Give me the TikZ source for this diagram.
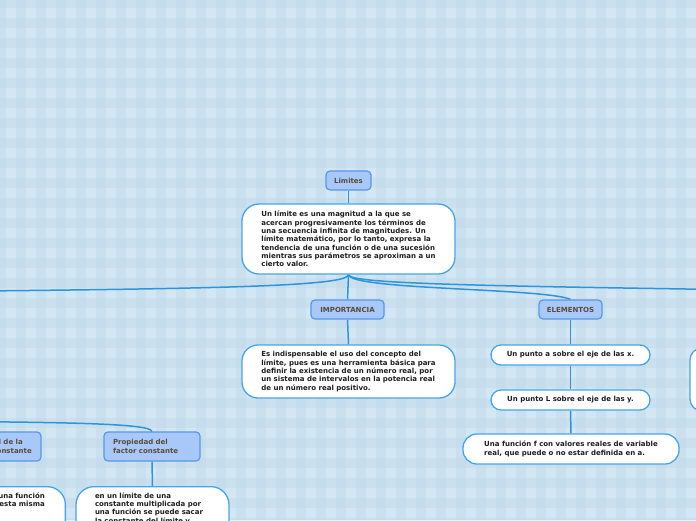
\documentclass[tikz,border=0pt]{standalone}
\usepackage{fontspec}
\setmainfont{DejaVu Sans}
\definecolor{bgbase}{HTML}{D3E6F3}
\definecolor{bgstripe}{HTML}{B9D4E6}
\definecolor{cline}{HTML}{2E95DC}
\definecolor{wborder}{HTML}{45A6E6}
\definecolor{bfill}{HTML}{A7C8F9}
\definecolor{bborder}{HTML}{5897E6}
\definecolor{btext}{HTML}{5E4A3A}
\definecolor{ttext}{HTML}{1E1E1E}
\pgfdeclarelayer{bgpat}
\pgfdeclarelayer{background}
\pgfsetlayers{bgpat,background,main}
\newcommand{\tfont}{\fontsize{7}{8.3}\selectfont\bfseries}
\tikzset{
  tnode/.style={draw=wborder, fill=white, line width=1.3pt, font=\tfont, text=ttext, align=left, inner sep=0pt},
  bnode/.style={draw=bborder, fill=bfill, line width=1.2pt, rounded corners=4pt, font=\tfont, text=btext, inner sep=0pt},
  conn/.style={draw=cline, line width=1.5pt},
  plain/.style={font=\tfont, text=ttext, inner sep=0pt, align=left}
}
\begin{document}
\begin{tikzpicture}[x=1pt,y=-1pt]
\useasboundingbox (0,0) rectangle (696,520);
\clip (0,0) rectangle (696,520);
\begin{pgfonlayer}{bgpat}
\fill[bgbase] (0,0) rectangle (696,520);
\foreach \i in {0,...,35} \fill[bgstripe, opacity=0.3] (\i*20-4,0) rectangle ++(10,520);
\foreach \j in {0,...,26} \fill[bgstripe, opacity=0.3] (0,\j*20-2) rectangle ++(696,10);
\end{pgfonlayer}

% top nodes
\node[bnode, minimum width=45pt, minimum height=19pt] (lim) at (348.5,180.5) {Limites};
\node[tnode, rounded corners=17pt, minimum width=213pt, minimum height=70pt] (main) at (348.5,239)
 {Un límite es una magnitud a la que se\\acercan progresivamente los términos de\\una secuencia infinita de magnitudes. Un\\límite matemático, por lo tanto, expresa la\\tendencia de una función o de una sucesión\\mientras sus parámetros se aproximan a un\\cierto valor.};

% importancia
\node[bnode, minimum width=73pt, minimum height=19pt] (imp) at (347.5,309.5) {IMPORTANCIA};
\node[tnode, rounded corners=16pt, minimum width=213pt, minimum height=53pt] (impt) at (348.5,371.5)
 {Es indispensable el uso del concepto del\\límite, pues es una herramienta básica para\\definir la existencia de un número real, por\\un sistema de intervalos en la potencia real\\de un número real positivo.};

% elementos
\node[bnode, minimum width=63pt, minimum height=19pt] (elem) at (570.5,309.5) {ELEMENTOS};
\node[tnode, rounded corners=10pt, minimum width=159pt, minimum height=20pt] (e1) at (570.5,355) {Un punto a sobre el eje de las x.};
\node[tnode, rounded corners=10pt, minimum width=159pt, minimum height=20pt] (e2) at (570.5,400) {Un punto L sobre el eje de las y.};
\node[tnode, rounded corners=14pt, minimum width=216pt, minimum height=30pt] (e3) at (571,449)
 {Una función f con valores reales de variable\\real, que puede o no estar definida en a.};

% right partial node
\node[tnode, rounded corners=12pt, minimum width=80pt, minimum height=63pt] (rpart) at (730,379.5) {};

% left lower
\node[bnode, minimum width=96pt, minimum height=29pt, text width=78pt, inner xsep=9pt, align=left] (factor) at (152,446.5) {Propiedad del\\factor constante};
\node[tnode, rounded corners=18pt, minimum width=153pt, text width=115pt, inner ysep=6pt, anchor=north] (factort) at (152.5,486)
 {en un límite de una\\constante multiplicada por\\una función se puede sacar\\la constante del límite y\\multiplicarla por el límite};

\node[bnode, minimum width=100pt, minimum height=29pt] (funcc) at (-9,446.5) {};
\node[font=\tfont, text=btext, inner sep=0pt, align=left, anchor=east] (funcct) at (32,446.5) {Propiedad de la\\función constante};

\node[tnode, rounded corners=18pt, minimum width=150pt, minimum height=62pt, anchor=north east] (leftt) at (66,486) {};
\node[plain, anchor=north east, align=right] (lefttt) at (45,492.5) {el límite de una función\\constante es esta misma};

% off-screen endpoints
\coordinate (offL) at (-120,292);
\coordinate (offR) at (820,291);
\coordinate (offL2) at (-120,421);

\begin{pgfonlayer}{background}
\draw[conn] (lim.south) -- (main.north);
\draw[conn] (main.south) -- (imp.north);
\draw[conn] (main.south) .. controls (348,287) and (200,289) .. (offL);
\draw[conn] (main.south) .. controls (348,284) and (480,286) .. (offR);
\draw[conn] (main.south) .. controls (350,290) and (545,288) .. (elem.north);
\draw[conn] (imp.south) -- (impt.north);
\draw[conn] (elem.south) -- (e1.north);
\draw[conn] (e1.south) -- (e2.north);
\draw[conn] (e2.south) -- (e3.north);
\draw[conn] (offL2) .. controls (60,422) and (150,423) .. (factor.north);
\draw[conn] (factor.south) -- (factort.north);
\end{pgfonlayer}
\end{tikzpicture}
\end{document}
